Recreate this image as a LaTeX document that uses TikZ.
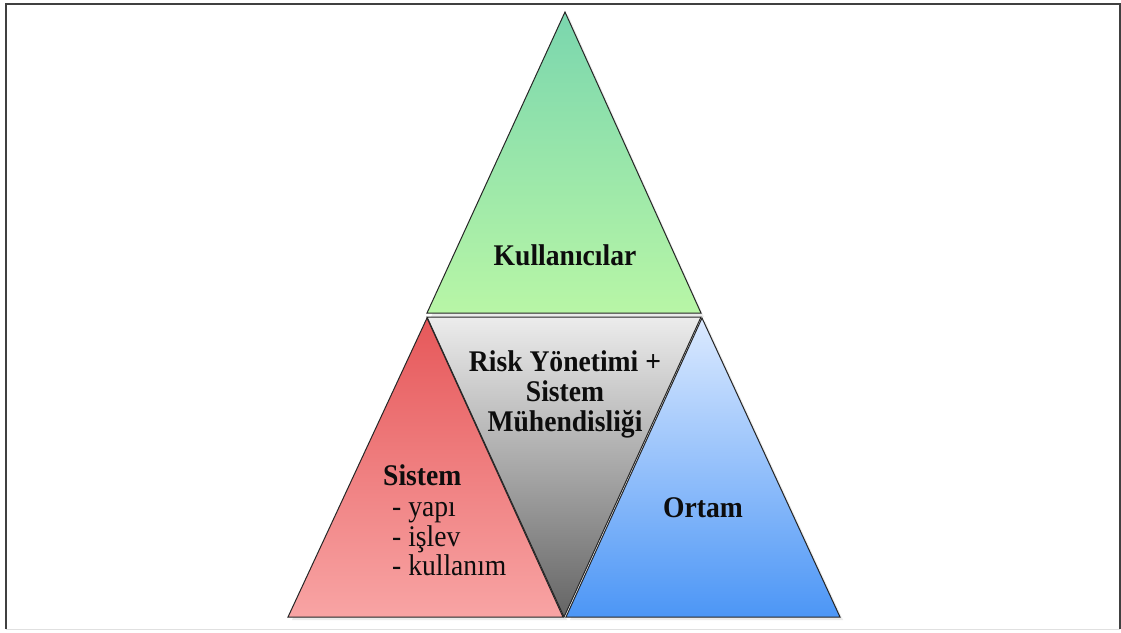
\documentclass[tikz,border=0pt]{standalone}
\usepackage{fontspec}
\setmainfont{Liberation Serif}
\newcommand{\narrow}[1]{\scalebox{0.92}[1]{#1}}
\begin{document}
\begin{tikzpicture}[x=1pt,y=-1pt,
  tri/.style={draw=black!85, line width=1pt, line join=miter},
  lbl/.style={font=\fontsize{30}{30}\selectfont\bfseries, text=black!95, inner sep=0pt, anchor=base},
  sub/.style={font=\fontsize{30}{30}\selectfont, text=black!95, inner sep=0pt, anchor=base west}
]
\useasboundingbox (0,0) rectangle (1121,632);
\fill[white] (0,0) rectangle (1121,632);
% frame
\draw[black!75, line width=2pt] (6,629) -- (6,4) -- (1120,4) -- (1120,629);
\draw[black!12, line width=1pt] (6,629) -- (1120,629);
% shadows
\fill[black!8] (568,15) -- (704,317) -- (431,317) -- cycle;
\fill[black!8] (431,321) -- (567,620) -- (292,620) -- cycle;
\fill[black!8] (705,321) -- (843,620) -- (570,620) -- cycle;
% triangles
\path[tri, top color={rgb,255:red,122;green,214;blue,174}, bottom color={rgb,255:red,184;green,246;blue,166}]
  (565,12) -- (701,313) -- (427,313) -- cycle;
\path[tri, top color={rgb,255:red,236;green,236;blue,236}, bottom color={rgb,255:red,100;green,100;blue,100}]
  (427,317) -- (701,317) -- (564,617) -- cycle;
\path[tri, top color={rgb,255:red,230;green,88;blue,90}, bottom color={rgb,255:red,248;green,164;blue,164}]
  (427,318) -- (563,617) -- (288,617) -- cycle;
\path[tri, top color={rgb,255:red,220;green,234;blue,255}, bottom color={rgb,255:red,76;green,150;blue,246}]
  (702,318) -- (840,617) -- (566,617) -- cycle;
% labels
\node[lbl] (users) at (565,265) {\narrow{Kullanıcılar}};
\node[lbl] (risk1) at (565,371) {\narrow{Risk Yönetimi +}};
\node[lbl] (risk2) at (565,401) {\narrow{Sistem}};
\node[lbl] (risk3) at (565,431) {\narrow{Mühendisliği}};
\node[lbl] (ortam) at (703,517) {\narrow{Ortam}};
\node[lbl, anchor=base west] (sistem) at (383,485) {\narrow{Sistem}};
\node[sub] (yapi) at (392,516) {\narrow{- yapı}};
\node[sub] (islev) at (392,546) {\narrow{- işlev}};
\node[sub] (kullanim) at (392,575) {\narrow{- kullanım}};
\end{tikzpicture}
\end{document}
